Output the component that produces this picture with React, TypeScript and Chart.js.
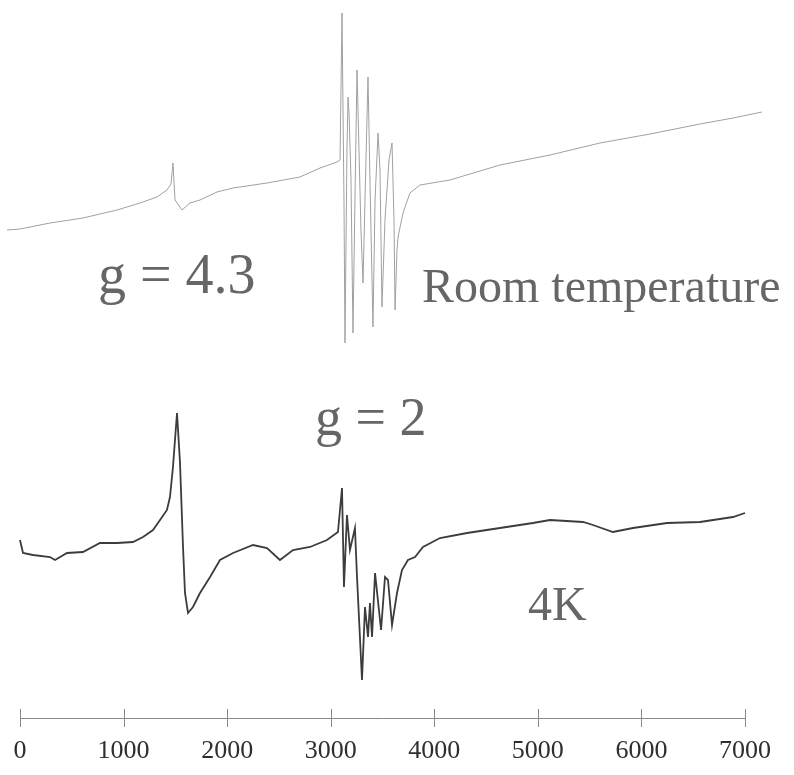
import React, { useEffect, useRef } from "react";
import { Chart, registerables } from "chart.js";

Chart.register(...registerables);

// Magnetic field (G) and signal (arbitrary units) — room temperature trace
const rtField = [
  -126, 0, 290, 608, 937, 1159, 1323, 1419, 1458, 1477, 1497, 1564, 1641, 1738, 1902, 2057,
  2385, 2703, 2897, 3061, 3090, 3109, 3128, 3138, 3157, 3167, 3177, 3196, 3215, 3234, 3254,
  3273, 3292, 3312, 3331, 3360, 3379, 3408, 3428, 3457, 3476, 3495, 3524, 3563, 3592, 3611,
  3621, 3640, 3650, 3698, 3765, 3862, 4152, 4634, 5117, 5600, 6083, 6566, 6884, 7164,
];
const rtSignal = [
  488, 489, 495, 500, 508, 515, 521, 528, 534, 555, 518, 508, 515, 518, 526, 530,
  535, 541, 550, 556, 558, 705, 518, 375, 568, 621, 605, 538, 385, 518, 648,
  568, 488, 435, 518, 641, 538, 391, 518, 585, 548, 411, 498, 558, 575, 498,
  408, 468, 481, 505, 525, 533, 538, 553, 563, 575, 584, 594, 600, 606,
];

// 4K trace
const lowField = [
  0, 29, 126, 290, 338, 454, 608, 772, 937, 1091, 1188, 1284, 1352, 1419, 1448, 1477,
  1516, 1545, 1574, 1593, 1622, 1670, 1738, 1835, 1931, 2057, 2250, 2385, 2510, 2636,
  2800, 2964, 3070, 3109, 3128, 3157, 3186, 3234, 3254, 3302, 3331, 3360, 3379, 3399,
  3428, 3486, 3524, 3553, 3592, 3640, 3688, 3746, 3814, 3891, 4055, 4316, 4634, 4953,
  5117, 5436, 5532, 5725, 5919, 6247, 6566, 6884, 7000,
];
const lowSignal = [
  178, 165, 163, 161, 158, 165, 166, 175, 175, 176, 181, 188, 198, 208, 221, 251,
  305, 255, 171, 125, 105, 111, 125, 141, 158, 165, 173, 170, 158, 168,
  171, 178, 186, 230, 131, 203, 168, 190, 141, 38, 111, 81, 115, 81,
  145, 88, 141, 138, 93, 125, 148, 158, 161, 171, 180, 185, 190, 195,
  198, 196, 193, 186, 190, 195, 196, 201, 205,
];

const tickValues = [0, 1000, 2000, 3000, 4000, 5000, 6000, 7000];

const labelTexts = ["g = 4.3", "Room temperature", "g = 2", "4K"];
const labelField = [753, 3881, 2848, 4905];
const labelSignal = [425, 416, 283, 98];
const labelSizes = [56, 48, 54, 48];

const FONT = "'Liberation Serif', 'DejaVu Serif', serif";

export default function App() {
  const ref = useRef<HTMLCanvasElement | null>(null);

  useEffect(() => {
    if (!ref.current) return;
    const rtData = rtField.map((x, i) => ({ x, y: rtSignal[i] }));
    const lowData = lowField.map((x, i) => ({ x, y: lowSignal[i] }));

    const axisPlugin = {
      id: "axisPlugin",
      beforeDatasetsDraw(chart: any) {
        const ctx = chart.ctx;
        const xs = chart.scales.x;
        const ys = chart.scales.y;
        const y0 = ys.getPixelForValue(0);
        ctx.save();
        ctx.strokeStyle = "#8a8a8a";
        ctx.lineWidth = 1;
        ctx.beginPath();
        ctx.moveTo(xs.getPixelForValue(tickValues[0]), y0 + 0.5);
        ctx.lineTo(xs.getPixelForValue(tickValues[tickValues.length - 1]), y0 + 0.5);
        ctx.stroke();
        tickValues.forEach((v) => {
          const px = Math.round(xs.getPixelForValue(v)) + 0.5;
          ctx.beginPath();
          ctx.moveTo(px, y0 - 9);
          ctx.lineTo(px, y0 + 9);
          ctx.stroke();
        });
        ctx.restore();
      },
      afterDatasetsDraw(chart: any) {
        const ctx = chart.ctx;
        const xs = chart.scales.x;
        const ys = chart.scales.y;
        ctx.save();
        ctx.fillStyle = "#666666";
        ctx.textAlign = "left";
        ctx.textBaseline = "alphabetic";
        labelTexts.forEach((t, i) => {
          ctx.font = `${labelSizes[i]}px ${FONT}`;
          ctx.fillText(t, xs.getPixelForValue(labelField[i]), ys.getPixelForValue(labelSignal[i]));
        });
        ctx.restore();
      },
    };

    const chart = new Chart(ref.current, {
      type: "line",
      data: {
        datasets: [
          {
            label: "Room temperature",
            data: rtData,
            borderColor: "#a0a0a0",
            borderWidth: 1,
            pointRadius: 0,
            tension: 0,
            clip: false as any,
          },
          {
            label: "4K",
            data: lowData,
            borderColor: "#3c3c3c",
            borderWidth: 1.8,
            pointRadius: 0,
            tension: 0,
            clip: false as any,
          },
        ],
      },
      options: {
        animation: false,
        responsive: true,
        maintainAspectRatio: false,
        layout: { padding: { left: 20, right: 49, top: 0, bottom: 9 } },
        plugins: { legend: { display: false }, tooltip: { enabled: false } },
        scales: {
          x: {
            type: "linear",
            min: 0,
            max: 7000,
            afterFit: (scale: any) => {
              scale.height = 48;
              scale.paddingLeft = 0;
              scale.paddingRight = 0;
            },
            afterBuildTicks: (scale: any) => {
              scale.ticks = tickValues.map((v) => ({ value: v }));
            },
            grid: { display: false, drawTicks: false },
            border: { display: false },
            ticks: {
              padding: 18,
              color: "#2e2e2e",
              font: { family: FONT, size: 26 },
              maxRotation: 0,
              autoSkip: false,
              callback: (v: any) => String(v),
            },
          },
          y: {
            display: false,
            min: 0,
            max: 718,
          },
        },
      },
      plugins: [axisPlugin],
    });
    return () => chart.destroy();
  }, []);

  return (
    <div style={{ position: "absolute", left: 0, top: 0, width: 794, height: 775, background: "#fff" }}>
      <canvas ref={ref} />
    </div>
  );
}
